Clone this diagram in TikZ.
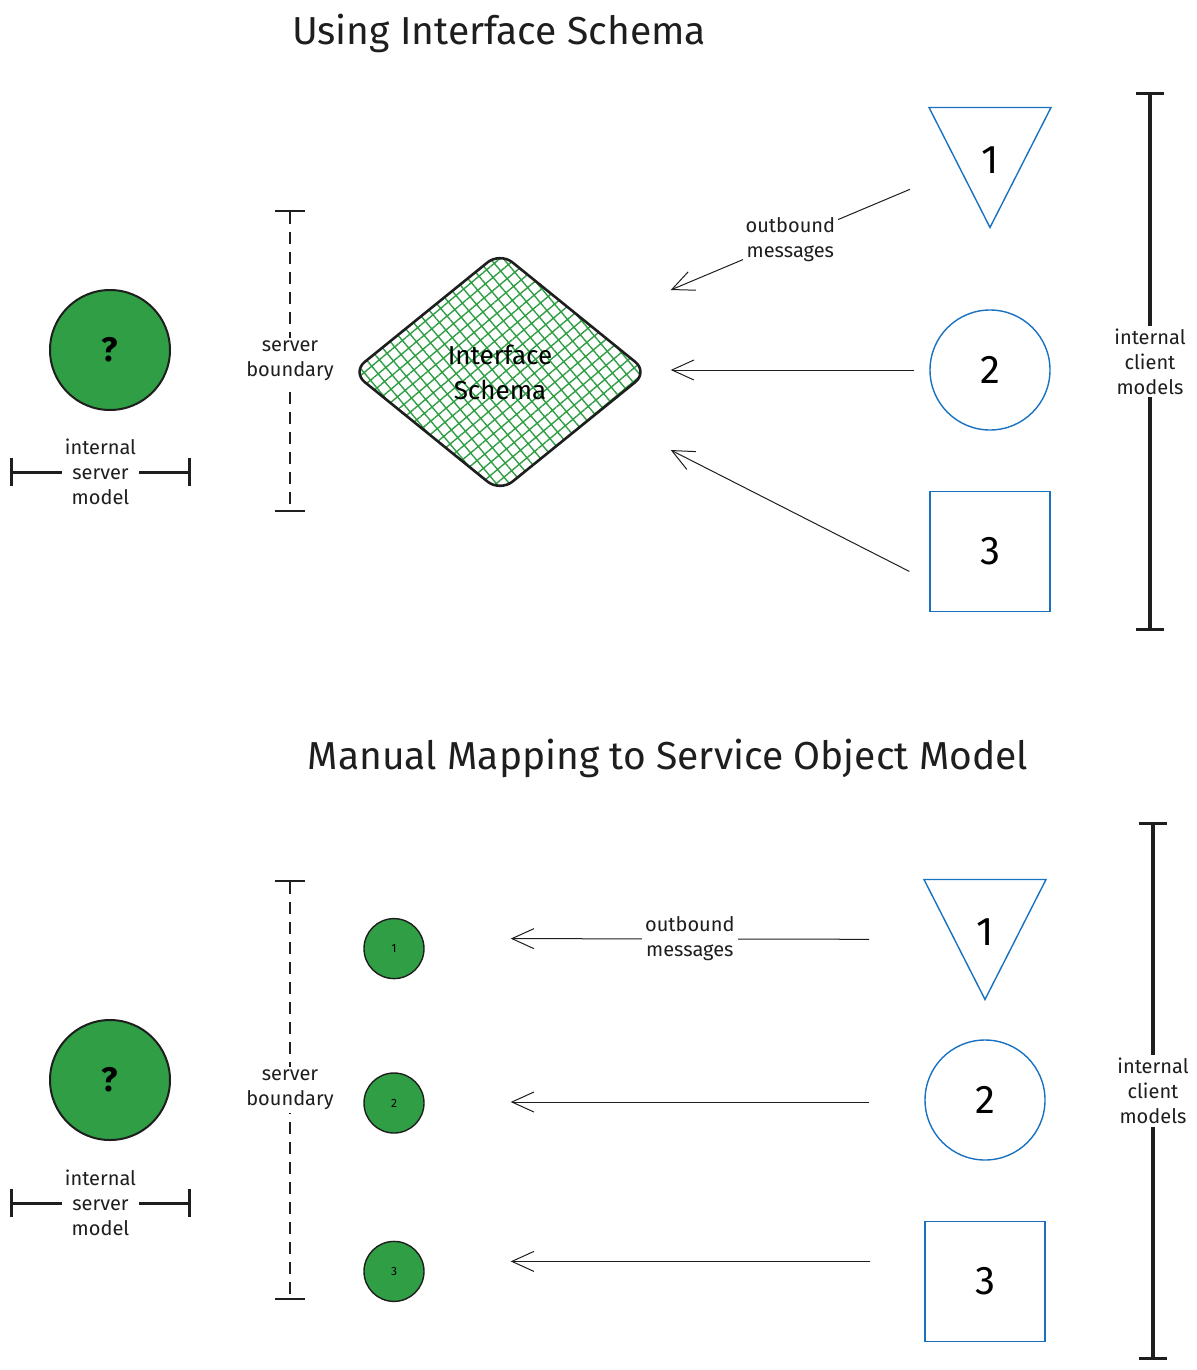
\documentclass[tikz,border=0pt]{standalone}
\usepackage{fontspec}
\setmainfont{Fira Sans}
\usetikzlibrary{arrows.meta,positioning,shapes.geometric,patterns.meta}

\definecolor{sketchgreen}{HTML}{2F9E44}
\definecolor{sketchblue}{HTML}{1971C2}
\definecolor{ink}{HTML}{1E1E1E}

\tikzset{
  title/.style={font=\fontsize{19.5}{23}\selectfont, text=ink},
  lbl/.style={fill=white, align=center, inner sep=1.5pt, text=ink, font=\fontsize{10}{12.5}\selectfont},
  server model/.style={circle, draw=ink, line width=1pt, fill=sketchgreen, minimum size=60pt, inner sep=0pt, font=\fontsize{17}{20}\selectfont\bfseries},
  mapped model/.style={circle, draw=ink, line width=0.7pt, fill=sketchgreen, minimum size=30pt, inner sep=0pt, font=\fontsize{6}{7}\selectfont},
  client circle/.style={circle, draw=sketchblue, line width=0.7pt, minimum size=60pt, inner sep=0pt, font=\fontsize{20}{22}\selectfont},
  client square/.style={rectangle, draw=sketchblue, line width=0.7pt, minimum size=60pt, inner sep=0pt, font=\fontsize{20}{22}\selectfont},
  client triangle/.style={isosceles triangle, isosceles triangle stretches, shape border rotate=270, draw=sketchblue, line width=0.7pt, minimum width=61pt, minimum height=60pt, inner sep=0pt, text height=25pt, text depth=0pt, font=\fontsize{20}{22}\selectfont},
  schema/.style={diamond, draw=ink, line width=1.3pt, rounded corners=8pt, minimum width=148pt, minimum height=120pt, inner sep=0pt, pattern={Hatch[angle=40,distance=5pt,line width=0.7pt]}, pattern color=sketchgreen, align=center, font=\fontsize{13}{17.5}\selectfont},
  msg/.style={draw=ink, line width=0.5pt, -{Straight Barb[length=11pt,width=10pt]}},
  span/.style={draw=ink, line width=1.5pt, {Bar[width=14pt]}-{Bar[width=14pt]}},
  boundary/.style={draw=ink, line width=1pt, dash pattern=on 6pt off 4pt, {Bar[width=15pt]}-{Bar[width=15pt]}}
}

\begin{document}
\begin{tikzpicture}[x=0.5pt,y=-0.5pt]
  \useasboundingbox (0,0) rectangle (1197,1370);

  % top: using interface schema
  \node[title] (title_schema) at (499,33) {Using Interface Schema};

  \node[server model] (server_top) at (110,350) {?};
  \coordinate (server_top_l) at (10,472);
  \coordinate (server_top_r) at (191,472);
  \draw[span] (server_top_l) -- node[lbl] (server_top_lbl) {internal\\server\\model} (server_top_r);

  \coordinate (boundary_top_a) at (290,210);
  \coordinate (boundary_top_b) at (290,512);
  \draw[boundary] (boundary_top_a) -- node[lbl] (boundary_top_lbl) {server\\boundary} (boundary_top_b);

  \node[schema] (schema) at (500,372) {Interface\\Schema};

  \node[client circle] (client_two) at (990,370) {2};
    \node[client triangle] (client_one) [above=40pt of client_two] {1};
    \node[client square] (client_three) [below=30pt of client_two] {3};

  \draw[msg] ([shift={(-40pt,20pt)}]client_one.apex) -- node[lbl] (msg_top_lbl) {outbound\\messages} ([shift={(11pt,41pt)}]schema.east);
  \draw[msg] ([xshift=-7.5pt]client_two.west) -- ([shift={(11pt,1pt)}]schema.east);
  \draw[msg] ([shift={(-10pt,-10pt)}]client_three.west) -- ([shift={(11pt,-39pt)}]schema.east);

  \coordinate (clients_top_a) at (1150,92);
  \coordinate (clients_top_b) at (1150,631);
  \draw[span, line width=1.7pt] (clients_top_a) -- node[lbl] (clients_top_lbl) {internal\\client\\models} (clients_top_b);

  % bottom: manual mapping
  \node[title] (title_mapping) at (668,758) {Manual Mapping to Service Object Model};

  \node[server model] (server_bot) at (110,1080) {?};
  \coordinate (server_bot_l) at (10,1203);
  \coordinate (server_bot_r) at (191,1203);
  \draw[span] (server_bot_l) -- node[lbl] (server_bot_lbl) {internal\\server\\model} (server_bot_r);

  \coordinate (boundary_bot_a) at (290,880);
  \coordinate (boundary_bot_b) at (290,1300);
  \draw[boundary] (boundary_bot_a) -- node[lbl] (boundary_bot_lbl) {server\\boundary} (boundary_bot_b);

  \node[mapped model] (mapped_two) at (394,1103) {2};
    \node[mapped model] (mapped_one) [above=46.5pt of mapped_two] {1};
    \node[mapped model] (mapped_three) [below=53.5pt of mapped_two] {3};

  \node[client circle] (client_bot_two) at (985,1100) {2};
    \node[client triangle] (client_bot_one) [above=19pt of client_bot_two] {1};
    \node[client square] (client_bot_three) [below=30pt of client_bot_two] {3};

  \draw[msg] ([shift={(-58pt,31pt)}]client_bot_one.apex) -- node[lbl] (msg_bot_lbl) {outbound\\messages} ([shift={(43pt,5pt)}]mapped_one.east);
  \draw[msg] ([shift={(-27.5pt,-1pt)}]client_bot_two.west) -- ([shift={(43pt,0.5pt)}]mapped_two.east);
  \draw[msg] ([shift={(-27pt,10pt)}]client_bot_three.west) -- ([shift={(43pt,5pt)}]mapped_three.east);

  \coordinate (clients_bot_a) at (1153,822);
  \coordinate (clients_bot_b) at (1153,1360);
  \draw[span, line width=1.7pt] (clients_bot_a) -- node[lbl] (clients_bot_lbl) {internal\\client\\models} (clients_bot_b);
\end{tikzpicture}
\end{document}
